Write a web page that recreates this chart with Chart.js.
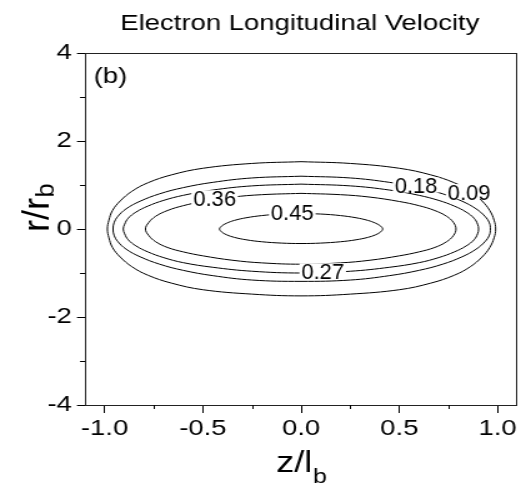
<!DOCTYPE html>
<html>
<head>
<meta charset="utf-8">
<script src="https://cdn.jsdelivr.net/npm/chart.js@4.4.1/dist/chart.umd.min.js"></script>
<style>
  html, body { margin: 0; padding: 0; background: #fff; overflow: hidden; }
  /* the reference is stretched sideways, so the chart is drawn narrow and widened */
  #wrap { width: 417px; height: 484px; transform: scaleX(1.2494); transform-origin: 0 0; }
</style>
</head>
<body>
<div id="wrap"><canvas id="velChart" width="417" height="484"></canvas></div>
<script>
const titleText = "Electron Longitudinal Velocity";
const panelText = "(b)";

const xTicks = [-1.0, -0.5, 0.0, 0.5, 1.0];
const xMinor = [-0.75, -0.25, 0.25, 0.75];
const yTicks = [-4, -2, 0, 2, 4];
const yMinor = [-3, -1, 1, 3];

// contour lines, [z, r] going round each loop
const contour09 = [[0, 1.53], [0.25, 1.49], [0.5, 1.38], [0.66, 1.23], [0.78, 1.05], [0.86, 0.86], [0.92, 0.64], [0.96, 0.42], [0.982, 0.2], [0.99, 0],
  [0.982, -0.2], [0.96, -0.42], [0.92, -0.64], [0.86, -0.86], [0.78, -1.05], [0.66, -1.23], [0.5, -1.38], [0.25, -1.48], [0, -1.52],
  [-0.25, -1.48], [-0.5, -1.38], [-0.66, -1.23], [-0.78, -1.05], [-0.86, -0.86], [-0.92, -0.64], [-0.96, -0.42], [-0.978, -0.2], [-0.986, 0],
  [-0.978, 0.2], [-0.96, 0.42], [-0.92, 0.64], [-0.86, 0.86], [-0.78, 1.05], [-0.66, 1.23], [-0.5, 1.38], [-0.25, 1.49], [0, 1.53]];
const contour18 = [[0, 1.2], [0.25, 1.16], [0.45, 1.06], [0.6, 0.94], [0.72, 0.8], [0.82, 0.63], [0.89, 0.46], [0.935, 0.29], [0.958, 0.14], [0.963, 0],
  [0.958, -0.14], [0.935, -0.29], [0.89, -0.46], [0.82, -0.63], [0.72, -0.8], [0.6, -0.94], [0.45, -1.06], [0.25, -1.16], [0, -1.19],
  [-0.25, -1.16], [-0.45, -1.06], [-0.6, -0.94], [-0.72, -0.8], [-0.82, -0.63], [-0.89, -0.46], [-0.932, -0.29], [-0.952, -0.14], [-0.957, 0],
  [-0.952, 0.14], [-0.932, 0.29], [-0.89, 0.46], [-0.82, 0.63], [-0.72, 0.8], [-0.6, 0.94], [-0.45, 1.06], [-0.25, 1.16], [0, 1.2]];
const contour27 = [[0, 1.02], [0.25, 0.98], [0.45, 0.885], [0.6, 0.765], [0.7, 0.65], [0.78, 0.52], [0.84, 0.385], [0.88, 0.245], [0.898, 0.11], [0.903, 0],
  [0.898, -0.11], [0.88, -0.245], [0.84, -0.385], [0.78, -0.52], [0.7, -0.65], [0.6, -0.765], [0.45, -0.87], [0.25, -0.96], [0, -1.0],
  [-0.25, -0.96], [-0.45, -0.87], [-0.6, -0.765], [-0.7, -0.65], [-0.78, -0.52], [-0.84, -0.385], [-0.88, -0.245], [-0.898, -0.11], [-0.905, 0],
  [-0.898, 0.11], [-0.88, 0.245], [-0.84, 0.385], [-0.78, 0.52], [-0.7, 0.65], [-0.6, 0.765], [-0.45, 0.885], [-0.25, 0.98], [0, 1.02]];
const contour36 = [[0, 0.81], [0.2, 0.78], [0.35, 0.725], [0.5, 0.625], [0.6, 0.53], [0.68, 0.42], [0.74, 0.29], [0.775, 0.15], [0.788, 0],
  [0.775, -0.15], [0.74, -0.29], [0.68, -0.42], [0.6, -0.52], [0.5, -0.61], [0.35, -0.71], [0.2, -0.77], [0, -0.8],
  [-0.2, -0.77], [-0.35, -0.71], [-0.5, -0.61], [-0.6, -0.52], [-0.68, -0.42], [-0.74, -0.29], [-0.775, -0.15], [-0.792, 0],
  [-0.775, 0.15], [-0.74, 0.29], [-0.68, 0.42], [-0.6, 0.53], [-0.5, 0.625], [-0.35, 0.725], [-0.2, 0.78], [0, 0.81]];
const contour45 = [[0, 0.35], [0.1, 0.34], [0.2, 0.305], [0.28, 0.255], [0.34, 0.195], [0.38, 0.13], [0.405, 0.065], [0.415, 0],
  [0.405, -0.065], [0.38, -0.13], [0.34, -0.19], [0.28, -0.245], [0.2, -0.29], [0.1, -0.32], [0, -0.33],
  [-0.1, -0.32], [-0.2, -0.29], [-0.28, -0.245], [-0.34, -0.19], [-0.38, -0.13], [-0.405, -0.065], [-0.415, 0],
  [-0.405, 0.065], [-0.38, 0.13], [-0.34, 0.195], [-0.28, 0.255], [-0.2, 0.305], [-0.1, 0.34], [0, 0.35]];

const contours = [contour09, contour18, contour27, contour36, contour45];

// inline contour labels
const labelText = ["0.09", "0.18", "0.27", "0.36", "0.45"];
const labelX = [0.855, 0.585, 0.11, -0.44, -0.045];
const labelY = [0.85, 1.0, -0.95, 0.71, 0.38];

const fontFamily = '"Liberation Sans", Arial, Helvetica, sans-serif';

const decorPlugin = {
  id: 'decor',
  afterDatasetsDraw(chart) {
    const ctx = chart.ctx;
    const x = chart.scales.x, y = chart.scales.y;
    ctx.save();
    ctx.font = '22px ' + fontFamily;
    labelText.forEach((t, i) => {
      const px = x.getPixelForValue(labelX[i]);
      const py = y.getPixelForValue(labelY[i]);
      const w = ctx.measureText(t).width * 0.8;
      ctx.fillStyle = '#fff';
      ctx.fillRect(px - w / 2 - 1.5, py - 7.5, w + 3, 15);
      ctx.save();
      ctx.translate(px, py + 8);
      ctx.scale(0.8, 1);
      ctx.fillStyle = '#000';
      ctx.textAlign = 'center';
      ctx.textBaseline = 'alphabetic';
      ctx.fillText(t, 0, 0);
      ctx.restore();
    });
    ctx.restore();
  },
  afterDraw(chart) {
    const ctx = chart.ctx;
    const area = chart.chartArea;
    const x = chart.scales.x, y = chart.scales.y;
    ctx.save();
    // box round the plot
    ctx.strokeStyle = '#222';
    ctx.lineWidth = 1;
    ctx.strokeRect(area.left + 0.5, area.top + 0.5, area.right - area.left - 1, area.bottom - area.top);
    // minor ticks
    ctx.strokeStyle = '#000';
    ctx.beginPath();
    xMinor.forEach(v => {
      const px = Math.round(x.getPixelForValue(v)) + 0.5;
      ctx.moveTo(px, area.bottom);
      ctx.lineTo(px, area.bottom + 4);
    });
    yMinor.forEach(v => {
      const py = Math.round(y.getPixelForValue(v)) + 0.5;
      ctx.moveTo(area.left, py);
      ctx.lineTo(area.left - 4, py);
    });
    ctx.stroke();

    ctx.fillStyle = '#000';
    ctx.textBaseline = 'alphabetic';
    // title
    ctx.font = '22px ' + fontFamily;
    ctx.textAlign = 'center';
    ctx.fillText(titleText, (area.left + area.right) / 2 - 1, 30);
    // panel letter
    ctx.font = '22px ' + fontFamily;
    ctx.textAlign = 'left';
    ctx.fillText(panelText, area.left + 7, 83);
    // x axis title z/l_b
    ctx.font = '29px ' + fontFamily;
    const xs = 221;
    ctx.fillText('z/l', xs, 472);
    const wz = ctx.measureText('z/l').width;
    ctx.font = '20px ' + fontFamily;
    ctx.fillText('b', xs + wz + 0.5, 483);
    // y axis title r/r_b
    ctx.save();
    ctx.translate(38.5, 232);
    ctx.rotate(-Math.PI / 2);
    ctx.scale(1.2, 1);
    ctx.font = '30px ' + fontFamily;
    ctx.fillText('r/r', 0, 0);
    const wr = ctx.measureText('r/r').width;
    ctx.font = '21px ' + fontFamily;
    ctx.fillText('b', wr + 0.5, 4);
    ctx.restore();
    ctx.restore();
  }
};

const datasets = contours.map((c, i) => ({
  label: labelText[i],
  data: c.map(p => ({ x: p[0], y: p[1] })),
  showLine: true,
  borderColor: '#000',
  borderWidth: 1,
  pointRadius: 0,
  tension: 0.4,
  fill: false
}));

new Chart(document.getElementById('velChart').getContext('2d'), {
  type: 'scatter',
  data: { datasets: datasets },
  options: {
    responsive: false,
    animation: false,
    devicePixelRatio: 1,
    layout: { padding: { left: 0, top: 53, right: 3, bottom: 0 } },
    plugins: {
      legend: { display: false },
      tooltip: { enabled: false }
    },
    scales: {
      x: {
        type: 'linear',
        min: -1.1,
        max: 1.1,
        afterBuildTicks: s => { s.ticks = xTicks.map(v => ({ value: v })); },
        afterFit: s => { s.height = 79; },
        ticks: {
          autoSkip: false,
          maxRotation: 0,
          padding: 3,
          color: '#000',
          font: { family: fontFamily, size: 22 },
          callback: v => v.toFixed(1)
        },
        grid: { drawOnChartArea: false, tickLength: 8, color: '#000', lineWidth: 1 },
        border: { display: false }
      },
      y: {
        type: 'linear',
        min: -4,
        max: 4,
        afterBuildTicks: s => { s.ticks = yTicks.map(v => ({ value: v })); },
        afterFit: s => { s.width = 68; },
        ticks: {
          autoSkip: false,
          padding: 4,
          color: '#000',
          font: { family: fontFamily, size: 22 },
          callback: v => String(v)
        },
        grid: { drawOnChartArea: false, tickLength: 6.4, color: '#000', lineWidth: 1 },
        border: { display: false }
      }
    }
  },
  plugins: [decorPlugin]
});
</script>
</body>
</html>
